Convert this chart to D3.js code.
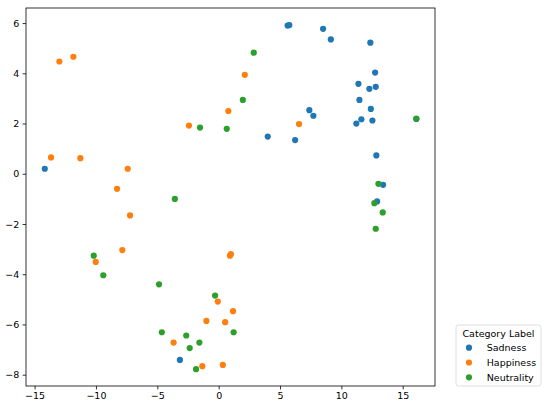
<!DOCTYPE html>
<html>
<head>
<meta charset="utf-8">
<script src="https://cdn.jsdelivr.net/npm/d3@7"></script>
<style>
  body { margin: 0; background: #fff; }
  text { font-family: "DejaVu Sans", sans-serif; }
</style>
</head>
<body>
<div id="chart"></div>
<script>
// categories and colours (matplotlib tab10)
const categories = ["Sadness", "Happiness", "Neutrality"];
const colors = ["#1f77b4", "#ff7f0e", "#2ca02c"];

// points, [x, y]
const sadness = [
  [-14.17, 0.2], [5.62, 5.9], [5.76, 5.92], [8.51, 5.77], [9.14, 5.35], [12.36, 5.22],
  [12.75, 4.03], [11.39, 3.58], [12.28, 3.38], [12.8, 3.46], [11.47, 2.94], [12.4, 2.58],
  [7.39, 2.53], [7.72, 2.31], [11.63, 2.17], [11.22, 2.0], [12.53, 2.12], [16.11, 2.18],
  [4.0, 1.48], [6.23, 1.34], [12.85, 0.73], [13.4, -0.44], [12.91, -1.1], [-3.16, -7.41]
];
const happiness = [
  [-13.66, 0.65], [-12.98, 4.47], [-11.84, 4.66], [-11.27, 0.62], [-7.41, 0.2], [-8.28, -0.6],
  [-2.42, 1.92], [0.79, 2.5], [2.13, 3.94], [6.55, 1.98], [-7.22, -1.66], [-7.85, -3.04],
  [-10.02, -3.51], [0.92, -3.26], [1.0, -3.2], [-0.07, -5.09], [-1.0, -5.86], [0.53, -5.91],
  [1.17, -5.47], [-3.67, -6.72], [-1.33, -7.66], [0.34, -7.61]
];
const neutrality = [
  [-1.52, 1.84], [0.66, 1.79], [2.86, 4.82], [1.97, 2.94], [16.11, 2.2], [-3.57, -1.0],
  [13.02, -0.4], [12.69, -1.17], [13.37, -1.54], [12.8, -2.19], [-10.18, -3.26], [-9.4, -4.04],
  [-4.86, -4.4], [-0.29, -4.85], [1.22, -6.31], [-4.63, -6.31], [-2.64, -6.44], [-1.57, -6.72],
  [-2.36, -6.94], [-1.84, -7.78]
];
const series = [sadness, happiness, neutrality];

const xTicks = [-15, -10, -5, 0, 5, 10, 15];
const yTicks = [-8, -6, -4, -2, 0, 2, 4, 6];
const legendTitle = "Category Label";

// plot area
const width = 550, height = 405;
const margin = {top: 8, right: 115, bottom: 19, left: 26};
const plotW = width - margin.left - margin.right;
const plotH = height - margin.top - margin.bottom;

const svg = d3.select("#chart").append("svg")
    .attr("width", width)
    .attr("height", height);

const g = svg.append("g")
    .attr("transform", "translate(" + margin.left + "," + margin.top + ")");

const x = d3.scaleLinear().domain([-15.7, 17.63]).range([0, plotW]);
const y = d3.scaleLinear().domain([-8.45, 6.6]).range([plotH, 0]);

// axes
const xAxis = g.append("g")
    .attr("transform", "translate(0," + plotH + ")")
    .call(d3.axisBottom(x).tickValues(xTicks).tickSize(3.4).tickPadding(3.3).tickFormat(d3.format("d")));
const yAxis = g.append("g")
    .call(d3.axisLeft(y).tickValues(yTicks).tickSize(3.4).tickPadding(3.3).tickFormat(d3.format("d")));

[xAxis, yAxis].forEach(function(a) {
    a.select(".domain").remove();
    a.selectAll("line").attr("stroke", "#000").attr("stroke-width", 0.8);
    a.selectAll("text").attr("font-size", "9.5px").attr("fill", "#000")
        .attr("font-family", "DejaVu Sans, sans-serif");
});

// points, one category after another
series.forEach(function(pts, i) {
    g.append("g").selectAll("circle")
        .data(pts)
        .enter().append("circle")
        .attr("cx", function(d) { return x(d[0]); })
        .attr("cy", function(d) { return y(d[1]); })
        .attr("r", 3.1)
        .attr("fill", colors[i]);
});

// frame
g.append("rect")
    .attr("width", plotW)
    .attr("height", plotH)
    .attr("fill", "none")
    .attr("stroke", "#000")
    .attr("stroke-width", 0.8);

// legend outside, bottom right
const legend = svg.append("g").attr("transform", "translate(456,325)");
legend.append("rect")
    .attr("width", 85)
    .attr("height", 61)
    .attr("rx", 2.5)
    .attr("fill", "#fff")
    .attr("stroke", "#d6d6d6")
    .attr("stroke-width", 0.8);
legend.append("text")
    .attr("x", 42.5)
    .attr("y", 12)
    .attr("text-anchor", "middle")
    .attr("font-size", "9.5px")
    .attr("fill", "#000")
    .text(legendTitle);

const rows = legend.selectAll(".row")
    .data(categories)
    .enter().append("g")
    .attr("transform", function(d, i) { return "translate(0," + (22.7 + i * 14.8) + ")"; });
rows.append("circle")
    .attr("cx", 13)
    .attr("cy", 0)
    .attr("r", 3.1)
    .attr("fill", function(d, i) { return colors[i]; });
rows.append("text")
    .attr("x", 30.7)
    .attr("y", 3.4)
    .attr("font-size", "9.5px")
    .attr("fill", "#000")
    .text(function(d) { return d; });
</script>
</body>
</html>
